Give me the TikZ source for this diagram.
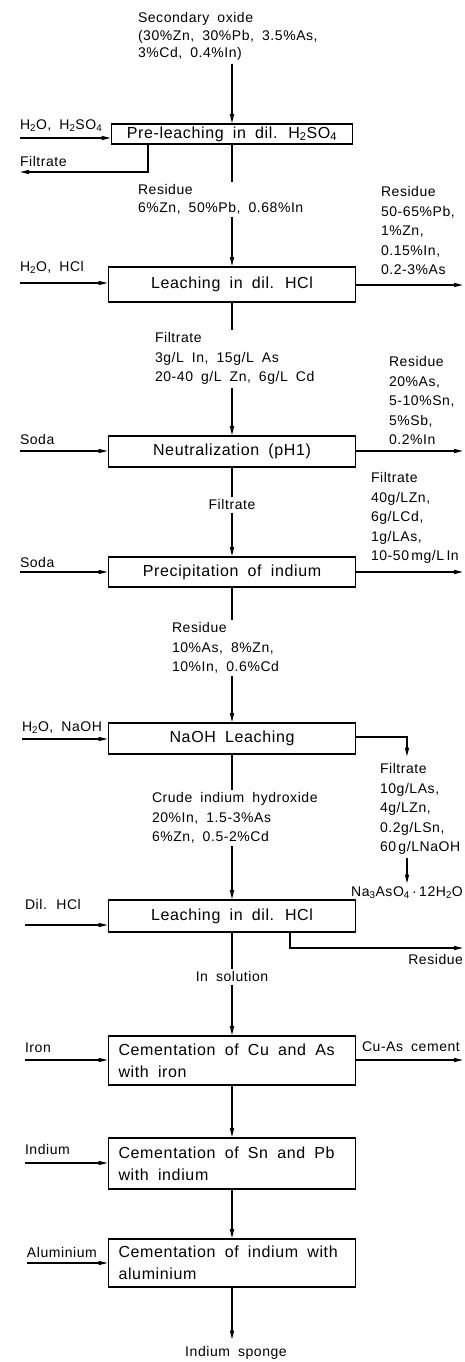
\documentclass[tikz,border=0pt]{standalone}
\usepackage{fontspec}
\setmainfont{Liberation Sans}[LetterSpace=4,WordSpace=1.8]
\usetikzlibrary{arrows.meta,positioning,calc}
\newcommand{\flowfont}{\fontsize{14}{19.5}\selectfont}
\newcommand{\tightfont}{\fontsize{14}{17.5}\selectfont}
\newcommand{\boxfont}{\fontsize{16}{22}\selectfont}
\newcommand{\chsub}[1]{\textsubscript{#1}}
\tikzset{
  pbox/.style={draw, line width=1.6pt, minimum width=247pt, inner sep=0pt, font=\boxfont},
  cbox/.style={pbox, text width=227pt, align=left, execute at begin node={\spaceskip=0pt\relax}},
  note/.style={inner sep=0pt, outer sep=3pt, align=left, font=\flowfont, anchor=north west},
  flow/.style={-{Triangle[length=9pt,width=4pt]}, line width=1.2pt},
  pipe/.style={line width=1.2pt},
}
\begin{document}
\begin{tikzpicture}[x=1pt, y=-1pt]
    \useasboundingbox (0,0) rectangle (464,1362);
    \node[pbox, minimum width=241pt, minimum height=20pt] (b1) at (232,134) {Pre-leaching in dil. H\chsub{2}SO\chsub{4}};
    \node[pbox, minimum height=35pt] (b2) at (232,284.5) {Leaching in dil. HCl};
    \node[pbox, minimum height=31pt] (b3) at (232,451.5) {Neutralization (pH1)};
    \node[pbox, minimum height=30pt] (b4) at (232,572) {Precipitation of indium};
    \node[pbox, minimum height=31pt] (b5) at (232,738.5) {NaOH Leaching};
    \node[pbox, minimum height=32pt] (b6) at (232,916) {Leaching in dil. HCl};
    \node[cbox, minimum height=49pt] (b7) at (232,1060.5) {Cementation of Cu and As\\with iron};
    \node[cbox, minimum height=51pt] (b8) at (232,1163.5) {Cementation of Sn and Pb\\with indium};
    \node[cbox, minimum height=48pt] (b9) at (232,1263) {Cementation of indium with\\aluminium};

    \node[note, font=\tightfont] (src) at (135,9.5) {Secondary oxide\\(30\%Zn, 30\%Pb, 3.5\%As,\\3\%Cd, 0.4\%In)};
    \node[note, font=\tightfont] (res1) at (135,181.5) {Residue\\6\%Zn, 50\%Pb, 0.68\%In};
    \node[note] (filt2) at (152,329.5) {Filtrate\\3g/L In, 15g/L As\\20-40 g/L Zn, 6g/L Cd};
    \node[note, anchor=north] (midfilt) at (232,496.5) {Filtrate};
    \node[note] (res4) at (169,619.5) {Residue\\10\%As, 8\%Zn,\\10\%In, 0.6\%Cd};
    \node[note] (crude) at (149,789.5) {Crude indium hydroxide\\20\%In, 1.5-3\%As\\6\%Zn, 0.5-2\%Cd};
    \node[note, anchor=north] (insol) at (232,968.5) {In solution};
    \node[note, anchor=north] (sponge) at (236,1343.5) {Indium sponge};

    \node[note] (resR2) at (378,183.5) {Residue\\50-65\%Pb,\\1\%Zn,\\0.15\%In,\\0.2-3\%As};
    \node[note] (resR3) at (386,353.5) {Residue\\20\%As,\\5-10\%Sn,\\5\%Sb,\\0.2\%In};
    \node[note] (filtR4) at (368,469.5) {Filtrate\\40g/LZn,\\6g/LCd,\\1g/LAs,\\10-50\,mg/L\,In};
    \node[note] (filtR5) at (377,760.5) {Filtrate\\10g/LAs,\\4g/LZn,\\0.2g/LSn,\\60\,g/LNaOH};
    \node[note, anchor=north] (nasalt) at (407,883.5) {Na\chsub{3}AsO\chsub{4}\,\textperiodcentered\,12H\chsub{2}O};
    \node[note, anchor=north east] (resR6) at (466,951.5) {Residue};
    \node[note] (cuas) at (359,1038.5) {Cu-As cement};

    \node[note] (inL1) at (17,116.5) {H\chsub{2}O, H\chsub{2}SO\chsub{4}};
    \node[note] (outL1) at (17,153.5) {Filtrate};
    \node[note] (inL2) at (17,258.5) {H\chsub{2}O, HCl};
    \node[note] (inL3) at (17,431.5) {Soda};
    \node[note] (inL4) at (17,554.5) {Soda};
    \node[note] (inL5) at (19,718.5) {H\chsub{2}O, NaOH};
    \node[note] (inL6) at (22,896.5) {Dil. HCl};
    \node[note] (inL7) at (22,1039.5) {Iron};
    \node[note] (inL8) at (22,1141.5) {Indium};
    \node[note] (inL9) at (24,1244.5) {Aluminium};

    \coordinate (s1) at (20,138);   \coordinate (s2) at (20,283);
    \coordinate (s3) at (20,451);   \coordinate (s4) at (20,572);
    \coordinate (s5) at (22,739);   \coordinate (s6) at (25,925);
    \coordinate (s7) at (25,1060);  \coordinate (s8) at (25,1163);
    \coordinate (s9) at (27,1263);
    \coordinate (e2) at (463,285);  \coordinate (e3) at (463,451);
    \coordinate (e4) at (463,572);  \coordinate (e7) at (463,1060);
    \coordinate (k1) at (148,172);  \coordinate (k1e) at (20,172);
    \coordinate (k5) at (407,737);
    \coordinate (k6) at (290,948);  \coordinate (k6e) at (463,948);

    \draw[flow] (b1.north |- src.south) -- (b1.north);
    \draw[pipe] (b1.south) -- (b1.south |- res1.north);
    \draw[flow] (b2.north |- res1.south) -- (b2.north);
    \draw[pipe] (b2.south) -- (b2.south |- filt2.north);
    \draw[flow] (b3.north |- filt2.south) -- (b3.north);
    \draw[pipe] (b3.south) -- (midfilt.north);
    \draw[flow] (midfilt.south) -- (b4.north);
    \draw[pipe] (b4.south) -- (b4.south |- res4.north);
    \draw[flow] (b5.north |- res4.south) -- (b5.north);
    \draw[pipe] (b5.south) -- (b5.south |- crude.north);
    \draw[flow] (b6.north |- crude.south) -- (b6.north);
    \draw[pipe] (b6.south) -- (insol.north);
    \draw[flow] (insol.south) -- (b7.north);
    \draw[flow] (b7) -- (b8);
    \draw[flow] (b8) -- (b9);
    \draw[flow, shorten >=4pt] (b9.south) -- (b9.south |- sponge.north);

    \foreach \s/\b in {s1/b1,s2/b2,s3/b3,s4/b4,s5/b5,s6/b6,s7/b7,s8/b8,s9/b9}
      \draw[flow] (\s) -- (\s -| \b.west);
    \foreach \e/\b in {e2/b2,e3/b3,e4/b4,e7/b7}
      \draw[flow] (\e -| \b.east) -- (\e);
    \draw[flow] (k1 |- b1.south) -- (k1) -- (k1e);
    \draw[flow, shorten >=4pt] (k5 -| b5.east) -- (k5) -- (k5 |- filtR5.north);
    \draw[flow] (nasalt.north |- filtR5.south) -- (nasalt.north);
    \draw[flow] (k6 |- b6.south) -- (k6) -- (k6e);
\end{tikzpicture}
\end{document}
